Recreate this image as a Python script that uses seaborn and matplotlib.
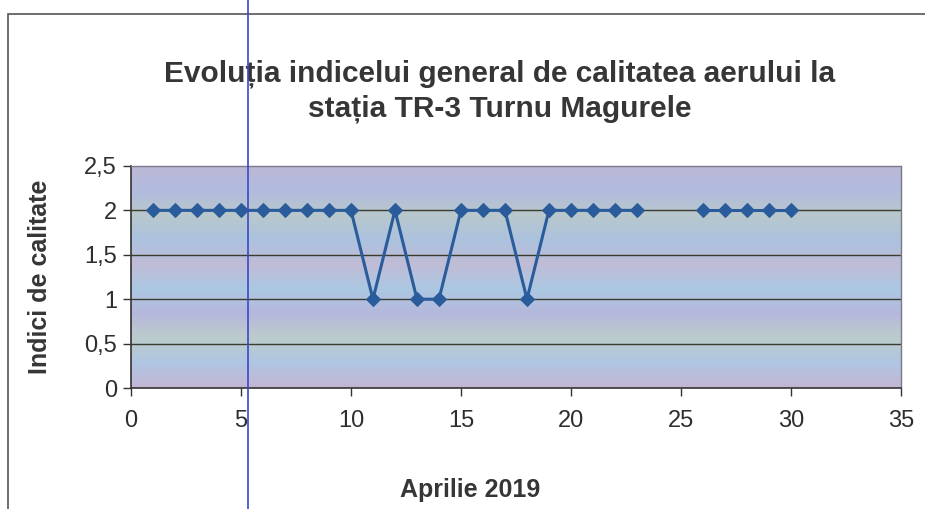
import numpy as np
import pandas as pd
import seaborn as sns
import matplotlib.pyplot as plt
from matplotlib.colors import LinearSegmentedColormap
from matplotlib.patches import Rectangle
from matplotlib.lines import Line2D

# daily air quality index, April 2019 (no data on 24-25)
days = [1, 2, 3, 4, 5, 6, 7, 8, 9, 10, 11, 12, 13, 14, 15, 16, 17, 18, 19, 20, 21, 22, 23,
        26, 27, 28, 29, 30]
index_values = [2, 2, 2, 2, 2, 2, 2, 2, 2, 2, 1, 2, 1, 1, 2, 2, 2, 1, 2, 2, 2, 2, 2,
                2, 2, 2, 2, 2]
segment = [0] * 23 + [1] * 5

df = pd.DataFrame({"Zi": days, "Indice": index_values, "seg": segment})

sns.set_theme(style="white")
plt.rcParams["font.family"] = ["Liberation Sans", "DejaVu Sans"]

fig = plt.figure(figsize=(9.25, 5.09), dpi=100)
ax = fig.add_axes([0.1416, 0.2377, 0.8324, 0.4363])

# scanned gradient look of the plot area
bg = LinearSegmentedColormap.from_list(
    "bg", ["#c2b6d4", "#b0c6e2", "#bccccc", "#b6b8dc", "#acc8e2",
           "#c0bcd6", "#acc2de", "#b8c8cc", "#b2bcde", "#bcb8d6"])
ax.imshow(np.linspace(0, 1, 200).reshape(-1, 1), aspect="auto", cmap=bg,
          extent=[0, 35, 0, 2.5], origin="lower", zorder=0, interpolation="bilinear")

for y in [0.5, 1, 1.5, 2]:
    ax.axhline(y, color="#3c3c2c", lw=1.0, zorder=1)

sns.lineplot(data=df, x="Zi", y="Indice", units="seg", estimator=None,
             color="#2a5c9c", lw=2.2, marker="D", markersize=7.5,
             markeredgecolor="#2a5c9c", ax=ax, zorder=3)

ax.set_xlim(0, 35)
ax.set_ylim(0, 2.5)
ax.set_xticks(range(0, 36, 5))
ax.set_yticks([0, 0.5, 1, 1.5, 2, 2.5])
ax.set_yticklabels(["0", "0,5", "1", "1,5", "2", "2,5"])
ax.tick_params(axis="both", which="both", direction="out", length=6, width=1,
               color="#333333", labelsize=17, labelcolor="#2e2e2e", pad=4)
ax.tick_params(axis="x", pad=10)
ax.xaxis.set_ticks_position("bottom")
ax.yaxis.set_ticks_position("left")
for side in ["top", "right"]:
    ax.spines[side].set_color("#7a7a8a")
    ax.spines[side].set_linewidth(1.0)
for side in ["left", "bottom"]:
    ax.spines[side].set_color("#333333")
    ax.spines[side].set_linewidth(1.2)

ax.set_xlabel("Aprilie 2019", fontsize=18, fontweight="bold", color="#363636")
ax.set_ylabel("Indici de calitate", fontsize=18, fontweight="bold", color="#363636")
ax.xaxis.set_label_coords(0.44, -0.405)
ax.yaxis.set_label_coords(-0.103, 0.5)

fig.text(0.54, 0.82, "Evoluția indicelui general de calitatea aerului la\nstația TR-3 Turnu Magurele",
         ha="center", va="center", fontsize=21.5, fontweight="bold", color="#363636",
         linespacing=1.3)

# chart frame and the blue margin line from the scanned page
fig.patches.append(Rectangle((8 / 925, -0.05), 1.2, 1 - 14 / 509 + 0.05, transform=fig.transFigure,
                             fill=False, edgecolor="#555555", lw=1.2))
fig.lines.append(Line2D([248 / 925, 248 / 925], [0, 1], transform=fig.transFigure,
                        color="#3a48c8", lw=1.2, zorder=10))

fig.savefig("out.png", dpi=100)
